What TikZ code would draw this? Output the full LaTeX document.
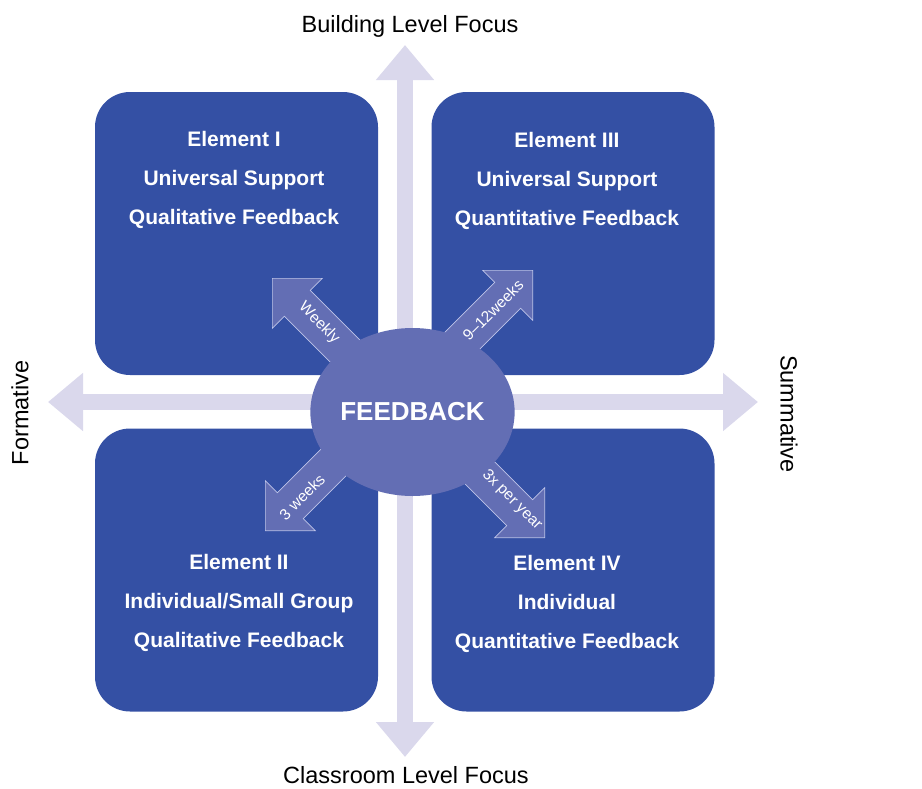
\documentclass[tikz,border=0pt]{standalone}
\usepackage{fontspec}
\setsansfont{Liberation Sans}
\usepackage{tikz}
\usetikzlibrary{arrows.meta,positioning,shapes.geometric,shapes.arrows}
\definecolor{elemblue}{RGB}{52,80,164}
\definecolor{hubblue}{RGB}{99,110,180}
\definecolor{spokeedge}{RGB}{190,196,232}
\definecolor{axislav}{RGB}{218,216,236}

\begin{document}
\begin{tikzpicture}[
    x=1pt, y=-1pt,
    font=\sffamily,
    element/.style={
		rectangle,
		rounded corners=35pt,
		fill=elemblue,
		minimum width=283pt,
		minimum height=283pt,
		inner sep=0pt
	},
	elemtext/.style={
		text=white,
		align=center,
		font=\sffamily\bfseries\fontsize{21}{39}\selectfont
	},
	axis/.style={
		draw=axislav,
		line width=16pt,
		>={Triangle[width=56pt,length=35pt]},
		<->
	},
	axislabel/.style={
		inner sep=1pt,
		font=\sffamily\fontsize{23.5}{28}\selectfont
	},
	spoke/.style={
		single arrow,
		fill=hubblue,
		draw=spokeedge,
		line width=0.7pt,
		minimum height=150pt,
		single arrow head extend=17pt,
		single arrow tip angle=90,
		inner xsep=0pt,
		inner ysep=18pt,
		anchor=tip
	},
	freq/.style={
		text=white,
		font=\sffamily\fontsize{15.5}{18}\selectfont
	}
  ]
  \useasboundingbox (0,0) rectangle (922,788);

    % We start by placing the four element blocks
  \node [element] (elem1) at (236.5,233.5) {};
  \node [element] (elem3) at (573,233.5) {};
  \node [element] (elem2) at (236.5,570) {};
  \node [element] (elem4) at (573,570) {};

    % the two focus axes
  \coordinate (top) at (405,45);
  \coordinate (bottom) at (405,757);
  \coordinate (left) at (48,402);
  \coordinate (right) at (758,402);
  \draw [axis] (bottom) -- (top);
  \draw [axis] (left) -- (right);

    % spokes out of the hub
  \node [spoke, rotate=135] (spoke1) at (272,278) {};
  \node [spoke, rotate=45] (spoke3) at (533,270) {};
  \node [spoke, rotate=225] (spoke2) at (265,531) {};
  \node [spoke, rotate=-45] (spoke4) at (545,538) {};

  \node [ellipse, fill=hubblue, minimum width=192pt, minimum height=168pt,
         inner sep=0pt, text=white,
         font=\sffamily\bfseries\fontsize{26}{30}\selectfont] (hub) at (412.5,412) {FEEDBACK};

  \node [freq, rotate=-45] (weekly) at (319,323) {Weekly};
  \node [freq, rotate=45] (quarter) at (493,310) {9--12weeks};
  \node [freq, rotate=45] (threewk) at (302,497) {3 weeks};
  \node [freq, rotate=-45] (peryear) at (512,500) {3x per year};

    % texts of the blocks
  \node [elemtext] (text1) at (234,180) {Element I\\Universal Support\\Qualitative Feedback};
  \node [elemtext] (text3) at (567,181) {Element III\\Universal Support\\Quantitative Feedback};
  \node [elemtext] (text2) at (239,603) {Element II\\Individual/Small Group\\Qualitative Feedback};
  \node [elemtext] (text4) at (567,604) {Element IV\\Individual\\Quantitative Feedback};

    % axis labels
  \node [axislabel] (build) at (410,26) {Building Level Focus};
  \node [axislabel] (class) at (406,775) {Classroom Level Focus};
  \node [axislabel, rotate=90] (form) at (20,413) {Formative};
  \node [axislabel, rotate=-90] (summ) at (789,414) {Summative};

\end{tikzpicture}
\end{document}
